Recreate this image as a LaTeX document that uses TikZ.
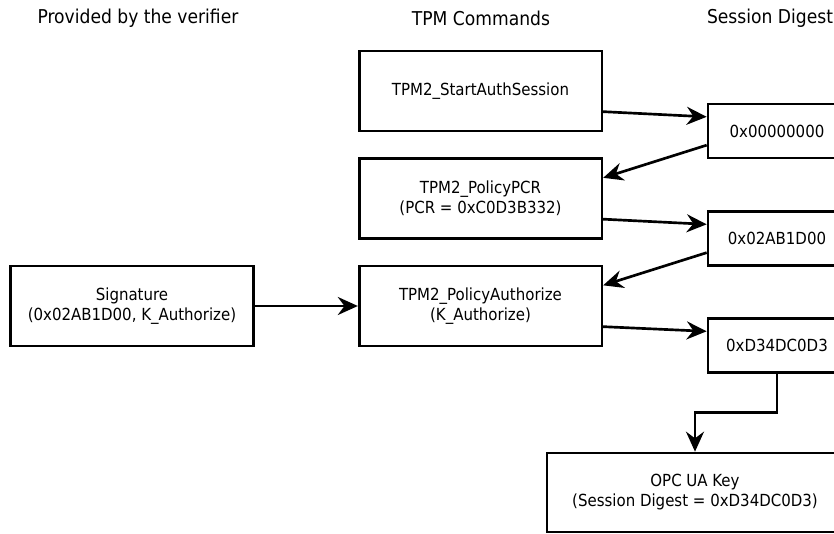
\documentclass[tikz,border=0pt]{standalone}
\usepackage{fontspec}
\setmainfont{DejaVu Sans Condensed}
\usetikzlibrary{arrows.meta,calc,positioning}

\tikzset{
  box/.style={draw,line width=2pt,align=center,inner sep=0pt,font=\fontsize{12.5}{15}\selectfont},
  cmdbox/.style={box,minimum width=182pt,minimum height=60pt},
  digestbox/.style={box,minimum width=103.5pt,minimum height=40.5pt},
  head/.style={font=\fontsize{14.3}{17}\selectfont},
  flow/.style={line width=2pt,-{Stealth[length=15pt,width=13.5pt,inset=5pt]}},
}

\begin{document}
\begin{tikzpicture}[x=0.75pt,y=-0.75pt]
  \useasboundingbox (0,0) rectangle (834,534);

  % column titles
  \node [head] (hver) at (138,18) {Provided by the verifier};
  \node [head] (htpm) at (481,18) {TPM Commands};
  \node [head] (hdig) at (770,18) {Session Digest};

  % TPM commands
  \node [cmdbox] (start) at (480.5,91) {TPM2\_StartAuthSession};
  \node [cmdbox] (pcr) at (480.5,198.5) {TPM2\_PolicyPCR\\(PCR = 0xC0D3B332)};
  \node [cmdbox] (auth) at (480.5,306) {TPM2\_PolicyAuthorize\\(K\_Authorize)};
  \node [cmdbox] (sig) at (132,306) {Signature\\(0x02AB1D00, K\_Authorize)};

  % session digests
  \node [digestbox] (d0) at (777,131) {0x00000000};
  \node [digestbox] (d1) at (777,238.5) {0x02AB1D00};
  \node [digestbox] (d2) at (777,345.5) {0xD34DC0D3};

  \node [box,minimum width=222pt,minimum height=59.25pt] (key) at (695,492.5)
    {OPC UA Key\\(Session Digest = 0xD34DC0D3)};

  \draw[flow] ($(start.south east)!.25!(start.north east)$) -- ($(d0.north west)!.25!(d0.south west)$);
  \draw[flow] ($(d0.south west)!.25!(d0.north west)$) -- ($(pcr.north east)!.25!(pcr.south east)$);
  \draw[flow] ($(pcr.south east)!.25!(pcr.north east)$) -- ($(d1.north west)!.25!(d1.south west)$);
  \draw[flow] ($(d1.south west)!.25!(d1.north west)$) -- ($(auth.north east)!.25!(auth.south east)$);
  \draw[flow] ($(auth.south east)!.25!(auth.north east)$) -- ($(d2.north west)!.25!(d2.south west)$);
  \draw[flow] (sig) -- (auth);
  \draw[flow] (d2.south) |- ($(d2.south)!.5!(key.north)$) -| (key.north);
\end{tikzpicture}
\end{document}
